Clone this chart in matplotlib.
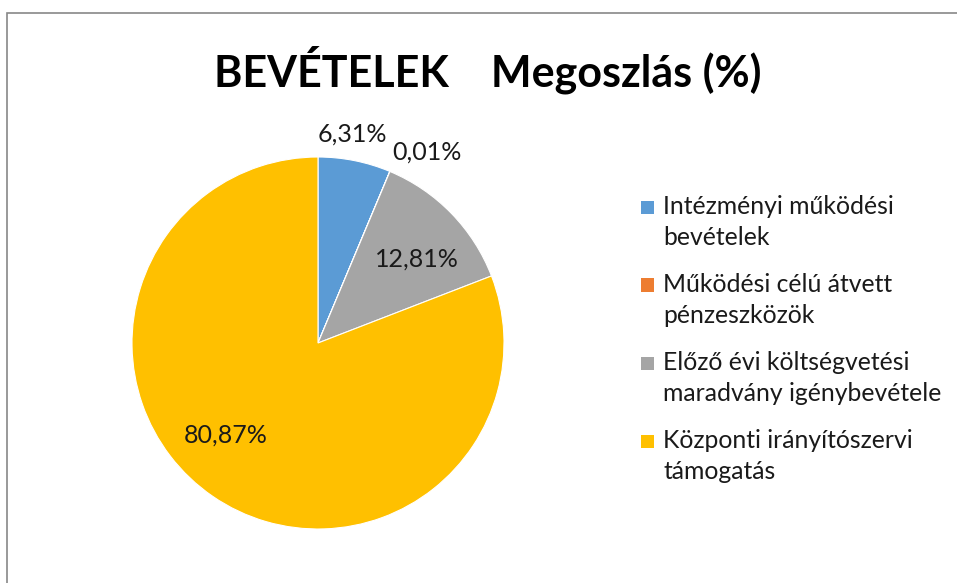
import matplotlib.pyplot as plt
import numpy as np
from matplotlib.patches import Rectangle

plt.rcParams['font.family'] = ['Lato', 'DejaVu Sans']

# chart data
categories = ['Intézményi működési\nbevételek',
              'Működési célú átvett\npénzeszközök',
              'Előző évi költségvetési\nmaradvány igénybevétele',
              'Központi irányítószervi\ntámogatás']
shares = [6.31, 0.01, 12.81, 80.87]
pct_labels = ['6,31%', '0,01%', '12,81%', '80,87%']
colors = ['#5B9BD5', '#ED7D31', '#A5A5A5', '#FFC000']
title = 'BEVÉTELEK    Megoszlás (%)'

W, H = 957, 583
fig = plt.figure(figsize=(W / 100, H / 100), dpi=100)

# chart border (only top and left edges visible in the crop)
fig.add_artist(Rectangle((7 / W, -0.1), 1.2, 1.1 - 13 / H,
                         transform=fig.transFigure, fill=False,
                         edgecolor='#888888', linewidth=1.2))

fig.text(488 / W, 1 - 70 / H, title, ha='center', va='center',
         fontsize=31, fontweight='bold', color='black')

# pie axes: centre (318, 343) px, radius 186 px
cx, cy, R = 318, 343, 186
ax = fig.add_axes([(cx - R) / W, (H - cy - R) / H, 2 * R / W, 2 * R / H])
wedges, _ = ax.pie(shares, colors=colors, startangle=90, counterclock=False,
                   radius=1, wedgeprops=dict(edgecolor='white', linewidth=0.8))
ax.set_xlim(-1, 1)
ax.set_ylim(-1, 1)
ax.set_aspect('equal')
ax.axis('off')

# label placement (radius factor, angle in degrees) - excel style
label_pos = [(1.14, 80.8), (1.18, 60.2), (0.70, 40.4), (0.70, 225.0)]
for txt, (r, a) in zip(pct_labels, label_pos):
    t = np.deg2rad(a)
    ax.text(r * np.cos(t), r * np.sin(t), txt, ha='center', va='center',
            fontsize=18, color='#1a1a1a')

# legend drawn by hand so the swatch sits on the first text line
lx, ly0, step, sq = 641, 207, 78, 13
for i, (name, col) in enumerate(zip(categories, colors)):
    y = ly0 + i * step
    fig.add_artist(Rectangle((lx / W, 1 - (y + sq / 2) / H), sq / W, sq / H,
                             transform=fig.transFigure, facecolor=col,
                             edgecolor='none'))
    fig.text(663 / W, 1 - (y - 12) / H, name, ha='left', va='top',
             fontsize=17.8, color='#1a1a1a', linespacing=1.4)

fig.savefig('out.png', dpi=100)
